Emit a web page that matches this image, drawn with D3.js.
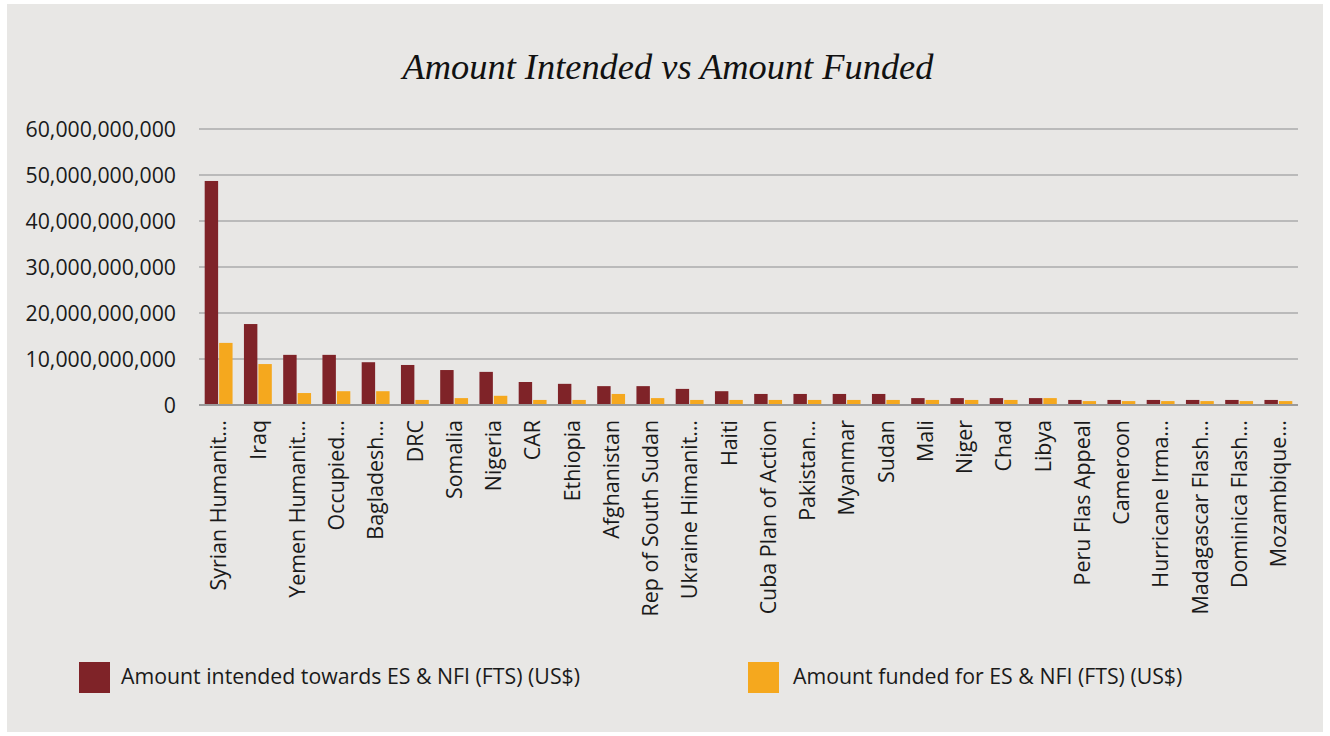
<!DOCTYPE html>
<html>
<head>
<meta charset="utf-8">
<script src="https://cdn.jsdelivr.net/npm/d3@7"></script>
<style>
  html, body { margin: 0; padding: 0; background: #ffffff; }
  svg { display: block; }
</style>
</head>
<body>
<svg id="chart" width="1330" height="736"></svg>
<script>
const categories = ["Syrian Humanit…","Iraq","Yemen Humanit…","Occupied…","Bagladesh…","DRC","Somalia","Nigeria","CAR","Ethiopia","Afghanistan","Rep of South Sudan","Ukraine Himanit…","Haiti","Cuba Plan of Action","Pakistan…","Myanmar","Sudan","Mali","Niger","Chad","Libya","Peru Flas Appeal","Cameroon","Hurricane Irma…","Madagascar Flash…","Dominica Flash…","Mozambique…"];
const intended = [48.7e9,17.6e9,10.9e9,10.9e9,9.3e9,8.7e9,7.6e9,7.2e9,5.0e9,4.6e9,4.1e9,4.1e9,3.5e9,3.0e9,2.4e9,2.4e9,2.4e9,2.4e9,1.5e9,1.5e9,1.5e9,1.5e9,1.1e9,1.1e9,1.1e9,1.1e9,1.1e9,1.1e9];
const funded = [13.5e9,8.9e9,2.6e9,3.0e9,3.0e9,1.1e9,1.5e9,2.0e9,1.1e9,1.1e9,2.4e9,1.5e9,1.1e9,1.1e9,1.1e9,1.1e9,1.1e9,1.1e9,1.1e9,1.1e9,1.1e9,1.5e9,0.85e9,0.85e9,0.85e9,0.85e9,0.85e9,0.85e9];
const yTicks = [0,10e9,20e9,30e9,40e9,50e9,60e9];
const seriesNames = ["Amount intended towards ES & NFI (FTS) (US$)","Amount funded for ES & NFI (FTS) (US$)"];
const colors = ["#7f2328","#f5a81e"];
const title = "Amount Intended vs Amount Funded";

const svg = d3.select("#chart");
svg.append("rect").attr("x",7).attr("y",4).attr("width",1316).attr("height",728).attr("fill","#e8e7e5");

const x0 = d3.scaleBand().domain(categories).range([199,1298]).paddingInner(0.29).paddingOuter(0.145);
const x1 = d3.scaleBand().domain([0,1]).range([0,x0.bandwidth()]).paddingInner(0.07);
const y = d3.scaleLinear().domain([0,60e9]).range([405,129]);

svg.append("text").attr("x",668).attr("y",79).attr("text-anchor","middle")
  .attr("font-family","'Liberation Serif', serif").attr("font-style","italic")
  .attr("font-size",36.4).attr("fill","#111").text(title);

// gridlines
svg.append("g").selectAll("line").data(yTicks.filter(d=>d>0)).join("line")
  .attr("x1",199).attr("x2",1298).attr("y1",d=>y(d)).attr("y2",d=>y(d))
  .attr("stroke","#ababab").attr("stroke-width",1.5);

// y axis labels
const yAxis = d3.axisLeft(y).tickValues(yTicks).tickSize(0).tickPadding(0).tickFormat(d3.format(","));
const yg = svg.append("g").attr("transform","translate(176,0)").call(yAxis);
yg.select(".domain").remove();
yg.selectAll("text").attr("font-family","'Open Sans', sans-serif").attr("font-size",21.3).attr("fill","#1a1a1a").attr("dy","0.36em");

// bars
const groups = svg.append("g").selectAll("g").data(categories).join("g")
  .attr("transform",d=>`translate(${x0(d)},0)`);
groups.selectAll("rect").data((d,i)=>[intended[i],funded[i]]).join("rect")
  .attr("x",(d,j)=>x1(j)).attr("width",x1.bandwidth())
  .attr("y",d=>y(d)).attr("height",d=>y(0)-y(d))
  .attr("fill",(d,j)=>colors[j]);

// baseline
svg.append("line").attr("x1",199).attr("x2",1298).attr("y1",y(0)).attr("y2",y(0))
  .attr("stroke","#9a9a9a").attr("stroke-width",2);

// x axis labels
const xAxis = d3.axisBottom(x0).tickSize(0).tickPadding(0);
const xg = svg.append("g").attr("transform",`translate(0,${y(0)})`).call(xAxis);
xg.select(".domain").remove();
xg.selectAll("text").attr("font-family","'Open Sans', sans-serif").attr("font-size",21.4).attr("fill","#1a1a1a")
  .attr("text-anchor","end").attr("transform","rotate(-90)").attr("x",-15).attr("y",0).attr("dy","0.36em");

// legend
const legX = [79,748];
const leg = svg.append("g").selectAll("g").data(seriesNames).join("g")
  .attr("transform",(d,i)=>`translate(${legX[i]},662)`);
leg.append("rect").attr("width",31).attr("height",31).attr("fill",(d,i)=>colors[i]);
leg.append("text").attr("x",(d,i)=>i===0?42:45).attr("y",22).attr("font-family","'Open Sans', sans-serif")
  .attr("font-size",21.3).attr("fill","#1a1a1a").text(d=>d);
</script>
</body>
</html>
